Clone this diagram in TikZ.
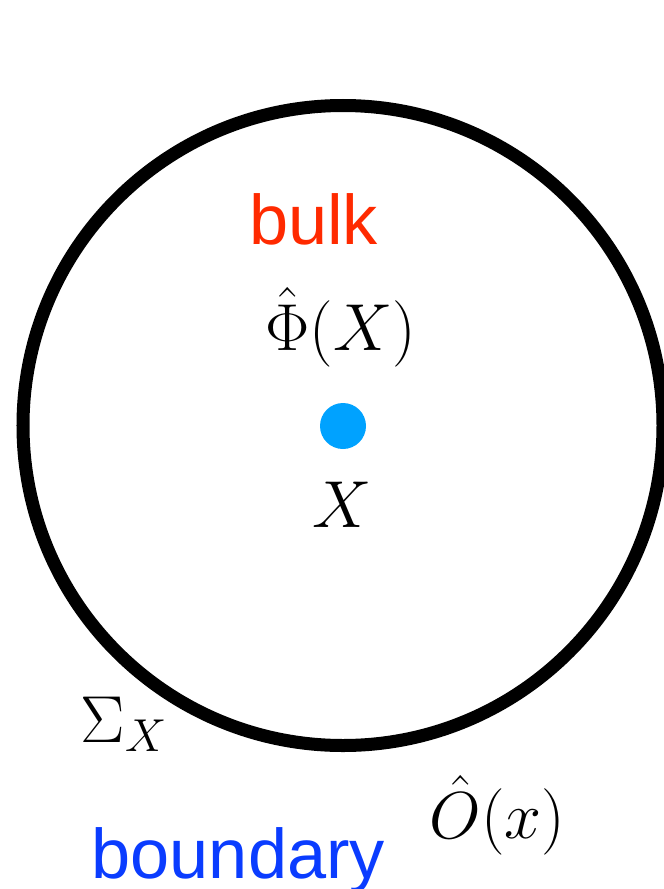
\documentclass[tikz,border=0pt]{standalone}
\usepackage{fontspec}
\setsansfont{Liberation Sans}
\definecolor{bulkRed}{HTML}{FF2A00}
\definecolor{bdryBlue}{HTML}{0A3CFF}
\definecolor{dotCyan}{HTML}{00A2FF}

\begin{document}
\begin{tikzpicture}[
  word/.style={font=\fontsize{20}{22}\selectfont\sffamily,inner sep=0pt},
  sym/.style={font=\fontsize{17.28}{20}\selectfont,inner sep=0pt,scale=1.094,transform shape},
  pt/.style={circle,fill=dotCyan,minimum size=0.46cm,inner sep=0pt}
]
  \useasboundingbox (0,0) rectangle (6.64,-8.89);
  % boundary circle, clipped by the page on the right
  \draw[line width=3.7pt] (3.43,-4.255) circle (3.20);

  \node[pt] (ptX) at (3.43,-4.26) {};
  \node[word,text=bulkRed,anchor=base] (bulk) at (3.135,-2.44) {bulk};
  \node[sym,anchor=base] (phi) at (3.405,-3.50) {$\hat\Phi(X)$};
  \node[sym,anchor=base] (labX) at (3.425,-5.27) {$X$};
  \node[sym,anchor=base west] (sigma) at (0.80,-7.42) {$\Sigma_X$};
  \node[sym,anchor=base west] (opO) at (4.29,-8.38) {$\hat O(x)$};
  \node[word,text=bdryBlue,anchor=base west] (bdry) at (0.91,-8.78) {boundary};
\end{tikzpicture}
\end{document}
